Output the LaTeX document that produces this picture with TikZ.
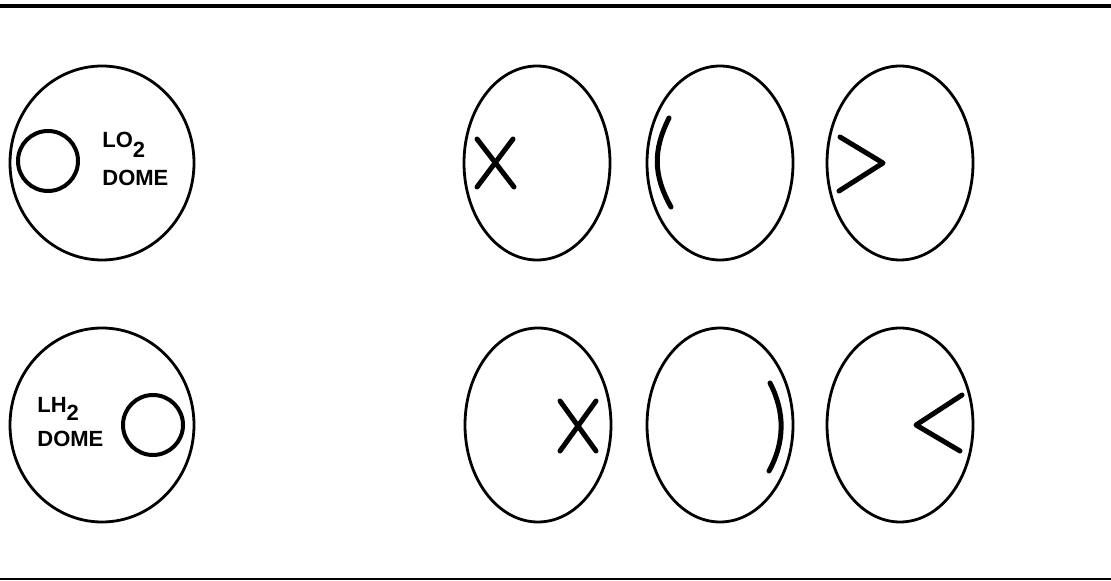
\documentclass[tikz,border=0pt]{standalone}
\usepackage{fontspec}
\setmainfont{Liberation Sans}
\usetikzlibrary{shapes.geometric}
\begin{document}
\begin{tikzpicture}[x=0.5pt,y=-0.5pt,
  dome/.style={draw, ellipse, line width=1.4pt, inner sep=0pt, minimum width=92pt, minimum height=97pt},
  view/.style={draw, ellipse, line width=1.4pt, inner sep=0pt, minimum width=73pt, minimum height=97pt},
  port/.style={draw, circle, line width=2pt, inner sep=0pt, minimum size=30pt},
  weld/.style={line width=2.5pt, line cap=round, line join=round},
  rule/.style={line width=1.8pt},
  lbl/.style={font=\bfseries\fontsize{11}{12}\selectfont, inner sep=0pt, anchor=base west}]
\useasboundingbox (0,0) rectangle (1111,581);
% frame rules
\coordinate (tl) at (0,6);
\coordinate (tr) at (1111,6);
\coordinate (bl) at (0,579);
\coordinate (br) at (1111,579);
\draw[rule] (tl) -- (tr);
\draw[line width=1.2pt] (bl) -- (br);
% domes
\node[dome] (lo) at (102,163) {};
\node[port] (lop) at (48,161) {};
\node[lbl] (lot) at (102,148) {LO\raisebox{-5pt}{2}};
\node[lbl] (lod) at (102,186) {DOME};
\node[dome] (lh) at (102,425) {};
\node[port] (lhp) at (153,425) {};
\node[lbl] (lht) at (37,413) {LH\raisebox{-4pt}{2}};
\node[lbl] (lhd) at (37,447) {DOME};
% view circles top row
\node[view] (a1) at (537,163) {};
\node[view] (a2) at (720,163) {};
\node[view] (a3) at (900,163) {};
% bottom row
\node[view] (b1) at (538,425) {};
\node[view] (b2) at (720,425) {};
\node[view] (b3) at (900,425) {};
% marks top row
\draw[weld] (477,139) -- (514,187);
\draw[weld] (513,139) -- (477,187);
\draw[weld] (669,118) .. controls (653,150) and (653,175) .. (671,207);
\draw[weld] (840,137) -- (883,163) -- (839,191);
% marks bottom row
\draw[weld] (560,401) -- (596,451);
\draw[weld] (596,401) -- (560,451);
\draw[weld] (770,383) .. controls (785,412) and (785,442) .. (769,471);
\draw[weld] (962,395) -- (916,425) -- (960,451);
\end{tikzpicture}
\end{document}
